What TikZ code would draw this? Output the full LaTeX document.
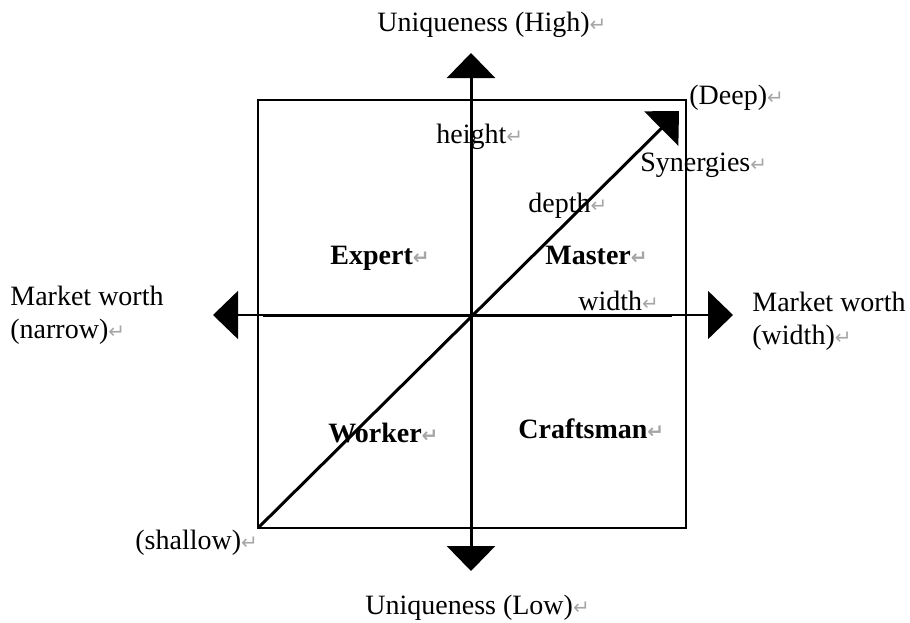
\documentclass[tikz,border=0pt]{standalone}
\usepackage{fontspec}
\setmainfont{Liberation Serif}
\newfontfamily\markfont{DejaVu Sans}
\usetikzlibrary{arrows.meta,positioning}
\newcommand{\pmark}{{\markfont\fontsize{10}{11}\selectfont\color{gray!70}↵}}
\tikzset{bighead/.tip={Triangle[width=24pt,length=12.5pt]}}

\begin{document}
\begin{tikzpicture}[x=0.5pt,y=-0.5pt,font=\fontsize{14}{16.5}\selectfont]
    \tikzstyle{axisline}=[line width=1.5pt]
    \tikzstyle{txt}=[inner sep=0pt,anchor=base west]
    \tikzstyle{quad}=[txt,font=\fontsize{14}{16.5}\selectfont\bfseries]
    \useasboundingbox (0,0) rectangle (910,622);

    % frame and axis ends
    \coordinate (sw)     at (258,528);
    \coordinate (ne)     at (686,100);
    \coordinate (O)      at (471,315);
    \coordinate (top)    at (471,53);
    \coordinate (bottom) at (471,571);
    \coordinate (left)   at (213,315);
    \coordinate (right)  at (733,315);
    \coordinate (wl)     at (263,315);
    \coordinate (wr)     at (672,315);
    \coordinate (deep)   at (679,111);

    \draw[line width=0.75pt] (sw) rectangle (ne);

    % axes
    \draw[line width=0.75pt, bighead-bighead] (left) -- (right);
    \draw[axisline] (wl) -- (wr);
    \draw[axisline, -bighead] (O) -- (top);
    \draw[axisline, -bighead] (O) -- (bottom);
    \draw[axisline, -bighead] (sw) -- (deep);

    % axis labels
    \node[txt] (high)    at (377,31)  {Uniqueness (High)\pmark};
    \node[txt] (low)     at (365,614) {Uniqueness (Low)\pmark};
    \node[txt, align=left] (narrow) at (10,338)  {Market worth\\(narrow)\pmark};
    \node[txt, align=left] (wide)   at (752,344) {Market worth\\(width)\pmark};
    \node[txt] (deeplbl) at (689,104) {(Deep)\pmark};
    \node[txt] (shallow) at (135,549) {(shallow)\pmark};
    \node[txt] (height)  at (436,143) {height\pmark};
    \node[txt] (syn)     at (640,171) {Synergies\pmark};
    \node[txt] (depth)   at (528,212) {depth\pmark};
    \node[txt] (width)   at (578,310) {width\pmark};

    % quadrants
    \node[quad] (expert)    at (330,264) {Expert\pmark};
    \node[quad] (master)    at (545,264) {Master\pmark};
    \node[quad] (worker)    at (328,442) {Worker\pmark};
    \node[quad] (craftsman) at (518,438) {Craftsman\pmark};
\end{tikzpicture}
\end{document}
